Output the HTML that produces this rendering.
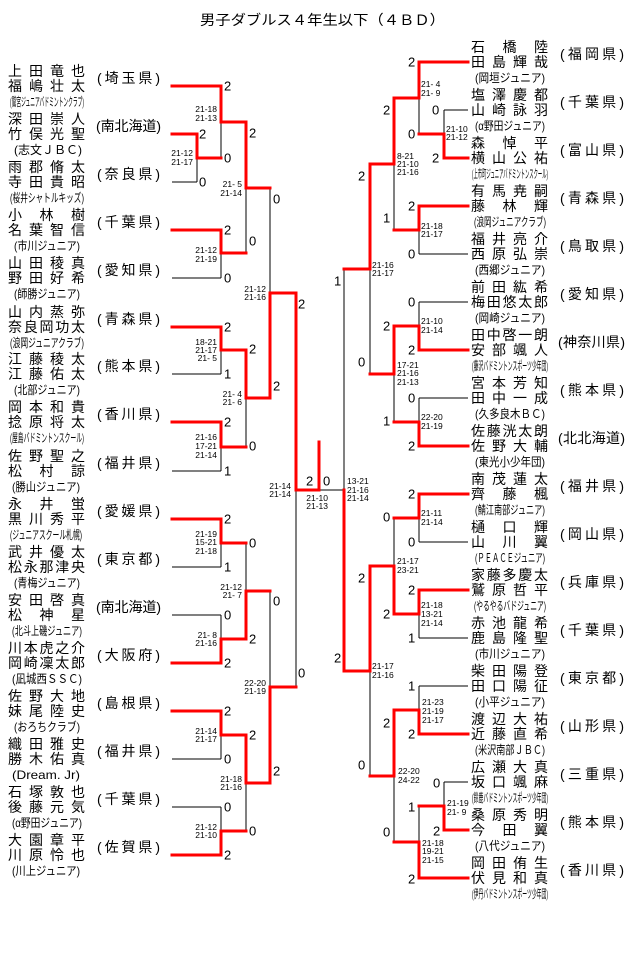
<!DOCTYPE html>
<html><head><meta charset="utf-8"><style>
html,body{margin:0;padding:0;background:#fff;}
svg{display:block;}
text{font-family:"Liberation Sans","Noto Sans CJK JP",sans-serif;fill:#000;dominant-baseline:central;}
.nm{font-size:14px;}
.cl{font-size:12px;}
.pf{font-size:14px;}
.sc{font-size:13px;}
.lb{font-size:8.5px;}
</style></head><body>
<svg width="640" height="961" viewBox="0 0 640 961" xmlns="http://www.w3.org/2000/svg">
<text x="200" y="20" font-size="14" textLength="245" lengthAdjust="spacingAndGlyphs">男子ダブルス４年生以下（４ＢＤ）</text>

<g stroke="#000" stroke-width="1" fill="none">
<path d="M172 182H197M172 278H221M172 374H221M172 471H221M172 567H221M172 615H221M172 759H221M172 807H221
M197 158V182M221 122V158M221 253V278M246 188V253M221 350V374M221 447V471M246 398V447M270 188V293
M221 543V567M221 615V639M246 543V591M221 735V759M221 807V831M246 783V831M270 591V687M296 490V687M319 490H344
M444 110H468M419 254H468M419 302H468M419 398H468M419 542H468M419 638H468M419 686H468M444 782H468
M444 110V134M419 98V134M419 230V254M394 164V230M419 302V326M419 398V422M394 374V422M370 269V374
M419 518V542M419 614V638M394 518V566M419 686V710M444 782V806M419 806V842M394 776V842M370 671V776M344 269V490"/>
</g>
<g stroke="#f00" stroke-width="3" fill="none" stroke-linecap="square">
<path d="M172 86H221M172 134H197M172 230H221M172 327H221M172 422H221M172 519H221M172 663H221M172 711H221M172 855H221
M197 134V158H221M221 86V122H246M221 230V253H246M246 122V188H270M221 327V350H246M221 422V447H246M246 350V398H270
M270 398V293H296M221 519V543H246M221 663V639H246M246 639V591H270M221 711V735H246M221 855V831H246M246 735V783H270
M270 783V687H296M296 293V490H319M319 442V490
M419 62H468M444 158H468M419 206H468M419 350H468M419 446H468M419 494H468M419 590H468M419 734H468M444 830H468M419 878H468
M444 158V134H419M419 62V98H394M419 206V230H394M394 98V164H370M419 350V326H394M419 446V422H394M394 326V374H370
M370 164V269H344M419 494V518H394M419 590V614H394M394 614V566H370M419 734V710H394M444 830V806H419M419 878V842H394
M394 710V776H370M370 566V671H344M344 490V671"/>
</g>

<g class="sc">
<text x="199" y="134">2</text><text x="199" y="182">0</text>
<text x="224" y="86">2</text><text x="224" y="158">0</text>
<text x="224" y="230">2</text><text x="224" y="278">0</text>
<text x="249" y="133">2</text><text x="249" y="241">0</text>
<text x="273" y="199">0</text><text x="273" y="386">2</text>
<text x="224" y="327">2</text><text x="224" y="374">1</text>
<text x="224" y="422">2</text><text x="224" y="471">1</text>
<text x="249" y="349">2</text><text x="249" y="446">0</text>
<text x="298" y="304">2</text><text x="298" y="673">0</text>
<text x="306" y="481">2</text><text x="323" y="481">0</text>
<text x="224" y="519">2</text><text x="224" y="567">1</text>
<text x="249" y="543">0</text><text x="249" y="639">2</text>
<text x="224" y="615">0</text><text x="224" y="663">2</text>
<text x="273" y="601">0</text><text x="273" y="771">2</text>
<text x="224" y="711">2</text><text x="224" y="759">0</text>
<text x="249" y="735">2</text><text x="249" y="831">0</text>
<text x="224" y="807">0</text><text x="224" y="855">2</text>

<text x="408" y="62">2</text><text x="383" y="110">2</text><text x="432" y="110">0</text>
<text x="408" y="134">0</text><text x="432" y="158">2</text><text x="358" y="176">2</text>
<text x="383" y="218">1</text><text x="408" y="206">2</text><text x="408" y="254">0</text>
<text x="334" y="281">1</text><text x="358" y="362">0</text>
<text x="408" y="302">0</text><text x="383" y="326">2</text><text x="408" y="350">2</text>
<text x="408" y="398">0</text><text x="383" y="421">1</text><text x="408" y="446">2</text>
<text x="334" y="658">2</text><text x="383" y="517">0</text><text x="408" y="494">2</text>
<text x="408" y="542">0</text><text x="358" y="578">2</text><text x="383" y="614">2</text>
<text x="408" y="590">2</text><text x="408" y="638">1</text>
<text x="408" y="686">1</text><text x="408" y="734">2</text><text x="383" y="723">2</text>
<text x="358" y="765">0</text><text x="433" y="783">0</text><text x="408" y="807">1</text>
<text x="433" y="831">2</text><text x="383" y="832">0</text><text x="408" y="879">2</text>
</g>

<g class="lb" text-anchor="end">
<text x="193" y="153">21-12</text><text x="193" y="162">21-17</text>
<text x="217" y="109">21-18</text><text x="217" y="118">21-13</text>
<text x="242" y="184">21- 5</text><text x="242" y="193">21-14</text>
<text x="217" y="250">21-12</text><text x="217" y="259">21-19</text>
<text x="266" y="289">21-12</text><text x="266" y="297">21-16</text>
<text x="217" y="342">18-21</text><text x="217" y="350">21-17</text><text x="217" y="358">21- 5</text>
<text x="217" y="437">21-16</text><text x="217" y="446">17-21</text><text x="217" y="455">21-14</text>
<text x="242" y="394">21- 4</text><text x="242" y="402">21- 6</text>
<text x="291" y="486">21-14</text><text x="291" y="494">21-14</text>
<text x="328" y="498">21-10</text><text x="328" y="506">21-13</text>
<text x="217" y="534">21-19</text><text x="217" y="542">15-21</text><text x="217" y="551">21-18</text>
<text x="242" y="587">21-12</text><text x="242" y="595">21- 7</text>
<text x="217" y="635">21- 8</text><text x="217" y="643">21-16</text>
<text x="266" y="683">22-20</text><text x="266" y="691">21-19</text>
<text x="217" y="731">21-14</text><text x="217" y="739">21-17</text>
<text x="242" y="779">21-18</text><text x="242" y="787">21-16</text>
<text x="217" y="827">21-12</text><text x="217" y="835">21-10</text>
</g>
<g class="lb">
<text x="421" y="84">21- 4</text><text x="421" y="93">21- 9</text>
<text x="446" y="129">21-10</text><text x="446" y="137">21-12</text>
<text x="397" y="156">8-21</text><text x="397" y="164">21-10</text><text x="397" y="172">21-16</text>
<text x="421" y="226">21-18</text><text x="421" y="234">21-17</text>
<text x="372" y="265">21-16</text><text x="372" y="273">21-17</text>
<text x="421" y="321">21-10</text><text x="421" y="330">21-14</text>
<text x="397" y="365">17-21</text><text x="397" y="373">21-16</text><text x="397" y="382">21-13</text>
<text x="421" y="417">22-20</text><text x="421" y="426">21-19</text>
<text x="347" y="481">13-21</text><text x="347" y="490">21-16</text><text x="347" y="498">21-14</text>
<text x="421" y="513">21-11</text><text x="421" y="522">21-14</text>
<text x="397" y="561">21-17</text><text x="397" y="570">23-21</text>
<text x="421" y="605">21-18</text><text x="421" y="614">13-21</text><text x="421" y="623">21-14</text>
<text x="372" y="666">21-17</text><text x="372" y="675">21-16</text>
<text x="422" y="702">21-23</text><text x="422" y="711">21-19</text><text x="422" y="720">21-17</text>
<text x="398" y="771">22-20</text><text x="398" y="780">24-22</text>
<text x="447" y="803">21-19</text><text x="447" y="812">21- 9</text>
<text x="422" y="843">21-18</text><text x="422" y="851">19-21</text><text x="422" y="860">21-15</text>
</g>

<!-- LEFT entries -->
<g class="nm">
<text x="8" y="71" textLength="77">上田竜也</text><text x="8" y="86" textLength="77">福嶋壮太</text>
<text x="8" y="119" textLength="77">深田崇人</text><text x="8" y="134" textLength="77">竹俣光聖</text>
<text x="8" y="167" textLength="77">雨郡脩太</text><text x="8" y="182" textLength="77">寺田貴昭</text>
<text x="8" y="215" textLength="77">小林樹</text><text x="8" y="230" textLength="77">名葉智信</text>
<text x="8" y="263" textLength="77">山田稜真</text><text x="8" y="278" textLength="77">野田好希</text>
<text x="8" y="312" textLength="77">山内蒸弥</text><text x="8" y="327" textLength="77">奈良岡功太</text>
<text x="8" y="359" textLength="77">江藤稜太</text><text x="8" y="374" textLength="77">江藤佑太</text>
<text x="8" y="407" textLength="77">岡本和貴</text><text x="8" y="422" textLength="77">捻原将太</text>
<text x="8" y="456" textLength="77">佐野聖之</text><text x="8" y="471" textLength="77">松村諒</text>
<text x="8" y="504" textLength="77">永井蛍</text><text x="8" y="519" textLength="77">黒川秀平</text>
<text x="8" y="552" textLength="77">武井優太</text><text x="8" y="567" textLength="77">松永那津央</text>
<text x="8" y="600" textLength="77">安田啓真</text><text x="8" y="615" textLength="77">松神星</text>
<text x="8" y="648" textLength="77">川本虎之介</text><text x="8" y="663" textLength="77">岡崎凜太郎</text>
<text x="8" y="696" textLength="77">佐野大地</text><text x="8" y="711" textLength="77">妹尾陸史</text>
<text x="8" y="744" textLength="77">織田雅史</text><text x="8" y="759" textLength="77">勝木佑真</text>
<text x="8" y="792" textLength="77">石塚敦也</text><text x="8" y="807" textLength="77">後藤元気</text>
<text x="8" y="840" textLength="77">大園章平</text><text x="8" y="855" textLength="77">川原怜也</text>
</g>
<g class="cl">
<text x="10" y="102" textLength="74" lengthAdjust="spacingAndGlyphs">(鷲宮ジュニアバドミントンクラブ)</text>
<text x="14" y="150" textLength="68" lengthAdjust="spacingAndGlyphs">(志文ＪＢＣ)</text>
<text x="10" y="198" textLength="74" lengthAdjust="spacingAndGlyphs">(桜井シャトルキッズ)</text>
<text x="14" y="246" textLength="66" lengthAdjust="spacingAndGlyphs">(市川ジュニア)</text>
<text x="14" y="294" textLength="66" lengthAdjust="spacingAndGlyphs">(師勝ジュニア)</text>
<text x="10" y="343" textLength="74" lengthAdjust="spacingAndGlyphs">(浪岡ジュニアクラブ)</text>
<text x="14" y="390" textLength="66" lengthAdjust="spacingAndGlyphs">(北部ジュニア)</text>
<text x="10" y="438" textLength="74" lengthAdjust="spacingAndGlyphs">(屋島バドミントンスクール)</text>
<text x="12" y="487" textLength="68" lengthAdjust="spacingAndGlyphs">(勝山ジュニア)</text>
<text x="10" y="535" textLength="72" lengthAdjust="spacingAndGlyphs">(ジュニアスクール札幌)</text>
<text x="14" y="583" textLength="66" lengthAdjust="spacingAndGlyphs">(青梅ジュニア)</text>
<text x="12" y="631" textLength="70" lengthAdjust="spacingAndGlyphs">(北斗上磯ジュニア)</text>
<text x="12" y="679" textLength="70" lengthAdjust="spacingAndGlyphs">(凪城西ＳＳＣ)</text>
<text x="14" y="727" textLength="66" lengthAdjust="spacingAndGlyphs">(おろちクラブ)</text>
<text x="12" y="775" textLength="68" lengthAdjust="spacingAndGlyphs">(Dream. Jr)</text>
<text x="12" y="823" textLength="70" lengthAdjust="spacingAndGlyphs">(α野田ジュニア)</text>
<text x="12" y="871" textLength="68" lengthAdjust="spacingAndGlyphs">(川上ジュニア)</text>
</g>
<g class="pf">
<text x="97" y="78" textLength="63">( 埼 玉 県 )</text>
<text x="96" y="126" textLength="65">(南北海道)</text>
<text x="97" y="174" textLength="63">( 奈 良 県 )</text>
<text x="97" y="222" textLength="63">( 千 葉 県 )</text>
<text x="97" y="270" textLength="63">( 愛 知 県 )</text>
<text x="97" y="319" textLength="63">( 青 森 県 )</text>
<text x="97" y="366" textLength="63">( 熊 本 県 )</text>
<text x="97" y="414" textLength="63">( 香 川 県 )</text>
<text x="97" y="463" textLength="63">( 福 井 県 )</text>
<text x="97" y="511" textLength="63">( 愛 媛 県 )</text>
<text x="97" y="559" textLength="63">( 東 京 都 )</text>
<text x="96" y="607" textLength="65">(南北海道)</text>
<text x="97" y="655" textLength="63">( 大 阪 府 )</text>
<text x="97" y="703" textLength="63">( 島 根 県 )</text>
<text x="97" y="751" textLength="63">( 福 井 県 )</text>
<text x="97" y="799" textLength="63">( 千 葉 県 )</text>
<text x="97" y="847" textLength="63">( 佐 賀 県 )</text>
</g>

<!-- RIGHT entries -->
<g class="nm">
<text x="471" y="47" textLength="77">石橋陸</text><text x="471" y="62" textLength="77">田島輝哉</text>
<text x="471" y="95" textLength="77">塩澤慶都</text><text x="471" y="110" textLength="77">山崎詠羽</text>
<text x="471" y="143" textLength="77">森悼平</text><text x="471" y="158" textLength="77">横山公祐</text>
<text x="471" y="191" textLength="77">有馬尭嗣</text><text x="471" y="206" textLength="77">藤林輝</text>
<text x="471" y="239" textLength="77">福井亮介</text><text x="471" y="254" textLength="77">西原弘崇</text>
<text x="471" y="287" textLength="77">前田紘希</text><text x="471" y="302" textLength="77">梅田悠太郎</text>
<text x="471" y="335" textLength="77">田中啓一朗</text><text x="471" y="350" textLength="77">安部颯人</text>
<text x="471" y="383" textLength="77">宮本芳知</text><text x="471" y="398" textLength="77">田中一成</text>
<text x="471" y="431" textLength="77">佐藤洸太朗</text><text x="471" y="446" textLength="77">佐野大輔</text>
<text x="471" y="479" textLength="77">南茂蓮太</text><text x="471" y="494" textLength="77">齊藤楓</text>
<text x="471" y="527" textLength="77">樋口輝</text><text x="471" y="542" textLength="77">山川翼</text>
<text x="471" y="575" textLength="77">家藤多慶太</text><text x="471" y="590" textLength="77">鷲原哲平</text>
<text x="471" y="623" textLength="77">赤池龍希</text><text x="471" y="638" textLength="77">鹿島隆聖</text>
<text x="471" y="671" textLength="77">柴田陽登</text><text x="471" y="686" textLength="77">田口陽征</text>
<text x="471" y="719" textLength="77">渡辺大祐</text><text x="471" y="734" textLength="77">近藤直希</text>
<text x="471" y="767" textLength="77">広瀬大真</text><text x="471" y="782" textLength="77">坂口颯麻</text>
<text x="471" y="815" textLength="77">桑原秀明</text><text x="471" y="830" textLength="77">今田翼</text>
<text x="471" y="863" textLength="77">岡田侑生</text><text x="471" y="878" textLength="77">伏見和真</text>
</g>
<g class="cl">
<text x="475" y="78" textLength="70" lengthAdjust="spacingAndGlyphs">(岡垣ジュニア)</text>
<text x="475" y="126" textLength="70" lengthAdjust="spacingAndGlyphs">(α野田ジュニア)</text>
<text x="472" y="174" textLength="76" lengthAdjust="spacingAndGlyphs">(上市町ジュニアバドミントンスクール)</text>
<text x="474" y="222" textLength="72" lengthAdjust="spacingAndGlyphs">(浪岡ジュニアクラブ)</text>
<text x="475" y="270" textLength="70" lengthAdjust="spacingAndGlyphs">(西郷ジュニア)</text>
<text x="475" y="318" textLength="70" lengthAdjust="spacingAndGlyphs">(岡崎ジュニア)</text>
<text x="472" y="366" textLength="76" lengthAdjust="spacingAndGlyphs">(藤沢バドミントンスポーツ少年団)</text>
<text x="475" y="414" textLength="70" lengthAdjust="spacingAndGlyphs">(久多良木ＢＣ)</text>
<text x="475" y="462" textLength="70" lengthAdjust="spacingAndGlyphs">(東光小少年団)</text>
<text x="475" y="510" textLength="70" lengthAdjust="spacingAndGlyphs">(鯖江南部ジュニア)</text>
<text x="475" y="558" textLength="70" lengthAdjust="spacingAndGlyphs">(ＰＥＡＣＥジュニア)</text>
<text x="474" y="606" textLength="72" lengthAdjust="spacingAndGlyphs">(やるやるバドジュニア)</text>
<text x="475" y="654" textLength="70" lengthAdjust="spacingAndGlyphs">(市川ジュニア)</text>
<text x="475" y="702" textLength="70" lengthAdjust="spacingAndGlyphs">(小平ジュニア)</text>
<text x="475" y="750" textLength="70" lengthAdjust="spacingAndGlyphs">(米沢南部ＪＢＣ)</text>
<text x="472" y="798" textLength="76" lengthAdjust="spacingAndGlyphs">(鈴鹿バドミントンスポーツ少年団)</text>
<text x="475" y="846" textLength="70" lengthAdjust="spacingAndGlyphs">(八代ジュニア)</text>
<text x="472" y="894" textLength="76" lengthAdjust="spacingAndGlyphs">(伊丹バドミントンスポーツ少年団)</text>
</g>
<g class="pf">
<text x="560" y="54" textLength="64">( 福 岡 県 )</text>
<text x="560" y="102" textLength="64">( 千 葉 県 )</text>
<text x="560" y="150" textLength="64">( 富 山 県 )</text>
<text x="560" y="198" textLength="64">( 青 森 県 )</text>
<text x="560" y="246" textLength="64">( 鳥 取 県 )</text>
<text x="560" y="294" textLength="64">( 愛 知 県 )</text>
<text x="558" y="342" textLength="67">(神奈川県)</text>
<text x="560" y="390" textLength="64">( 熊 本 県 )</text>
<text x="558" y="438" textLength="67">(北北海道)</text>
<text x="560" y="486" textLength="64">( 福 井 県 )</text>
<text x="560" y="534" textLength="64">( 岡 山 県 )</text>
<text x="560" y="582" textLength="64">( 兵 庫 県 )</text>
<text x="560" y="630" textLength="64">( 千 葉 県 )</text>
<text x="560" y="678" textLength="64">( 東 京 都 )</text>
<text x="560" y="726" textLength="64">( 山 形 県 )</text>
<text x="560" y="774" textLength="64">( 三 重 県 )</text>
<text x="560" y="822" textLength="64">( 熊 本 県 )</text>
<text x="560" y="870" textLength="64">( 香 川 県 )</text>
</g>
</svg>
</body></html>
